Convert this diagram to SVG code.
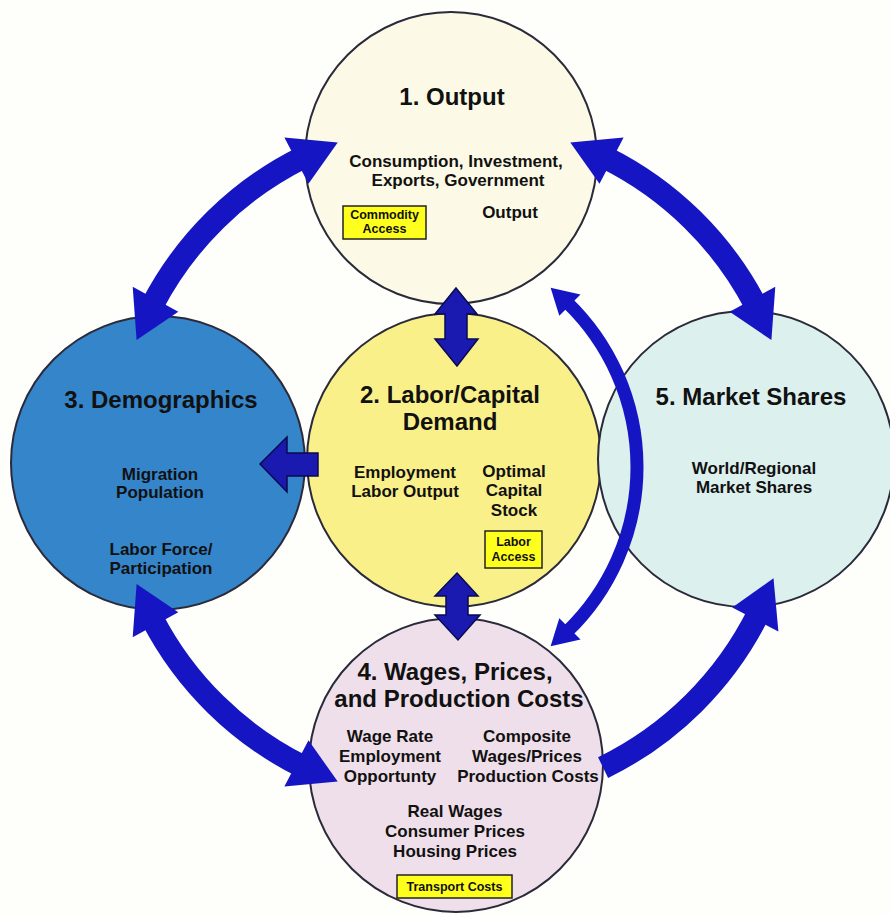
<svg xmlns="http://www.w3.org/2000/svg" width="890" height="915" viewBox="0 0 890 915">
<style>
text{font-family:"Liberation Sans",Arial,sans-serif;font-weight:bold;fill:#111;text-anchor:middle}
.t{font-size:24px}
.b{font-size:17px}
.s{font-size:12.5px}
.c{stroke:#2a2a3a;stroke-width:2}
.box{fill:#FFFF1E;stroke:#222;stroke-width:1.5}
.shaft{fill:none;stroke:#1515C4}
.head{fill:#1515C4}
.blk{fill:#1A1AB0;stroke:#0a0a50;stroke-width:1.5;stroke-linejoin:miter}
</style>
<rect width="890" height="915" fill="#FEFEFB"/>
<g id="node1">
<circle class="c" cx="451" cy="158" r="146" fill="#FCFAE6"/>
<text class="t" x="452" y="105">1. Output</text>
<text class="b" x="456" y="167">Consumption, Investment,</text>
<text class="b" x="458" y="186">Exports, Government</text>
<text class="b" x="510" y="218">Output</text>
<rect class="box" x="343" y="206" width="83" height="33"/>
<text class="s" x="384.5" y="219">Commodity</text>
<text class="s" x="384.5" y="233">Access</text>
</g>
<g id="node2">
<circle class="c" cx="454" cy="460" r="147" fill="#F9F08A"/>
<text class="t" x="450" y="403">2. Labor/Capital</text>
<text class="t" x="450" y="430">Demand</text>
<text class="b" x="405" y="478">Employment</text>
<text class="b" x="405" y="497">Labor Output</text>
<text class="b" x="514" y="477">Optimal</text>
<text class="b" x="514" y="496">Capital</text>
<text class="b" x="514" y="516">Stock</text>
<rect class="box" x="485" y="531" width="57" height="37"/>
<text class="s" x="513.5" y="546">Labor</text>
<text class="s" x="513.5" y="561">Access</text>
</g>
<g id="node3">
<circle class="c" cx="158" cy="463" r="147" fill="#3585CB"/>
<text class="t" x="161" y="408">3. Demographics</text>
<text class="b" x="160" y="480">Migration</text>
<text class="b" x="160" y="498">Population</text>
<text class="b" x="161" y="555">Labor Force/</text>
<text class="b" x="161" y="574">Participation</text>
</g>
<g id="node5">
<circle class="c" cx="746" cy="459" r="148" fill="#DCF0EE"/>
<text class="t" x="751" y="405">5. Market Shares</text>
<text class="b" x="754" y="474">World/Regional</text>
<text class="b" x="754" y="493">Market Shares</text>
</g>
<g id="node4">
<circle class="c" cx="456" cy="765" r="147" fill="#EFDFEA"/>
<text class="t" x="455" y="680">4. Wages, Prices,</text>
<text class="t" x="459" y="707">and Production Costs</text>
<text class="b" x="390" y="742">Wage Rate</text>
<text class="b" x="390" y="762">Employment</text>
<text class="b" x="390" y="782">Opportunty</text>
<text class="b" x="527" y="742">Composite</text>
<text class="b" x="527" y="762">Wages/Prices</text>
<text class="b" x="528" y="782">Production Costs</text>
<text class="b" x="455" y="817">Real Wages</text>
<text class="b" x="455" y="837">Consumer Prices</text>
<text class="b" x="455" y="857">Housing Prices</text>
<rect class="box" x="397" y="875" width="115" height="23"/>
<text class="s" x="454.5" y="891">Transport Costs</text>
</g>
<g id="connectors">
<!-- A: Output <-> Demographics -->
<path class="shaft" stroke-width="23" d="M302.3 157.7 A340 340 0 0 0 152.4 305"/>
<polygon class="head" points="337.7,142.5 308.5,183.7 284.4,137.6"/>
<polygon class="head" points="136.6,340.1 178.3,311.7 132.7,286.8"/>
<!-- B: Output <-> Market Shares -->
<path class="shaft" stroke-width="23" d="M605.7 157.7 A340 340 0 0 1 755.6 305"/>
<polygon class="head" points="570.3,142.5 599.5,183.7 623.6,137.6"/>
<polygon class="head" points="771.4,340.1 729.7,311.7 775.3,286.8"/>
<!-- C: Demographics <-> Wages -->
<path class="shaft" stroke-width="23" d="M152.4 619 A340 340 0 0 0 302.3 766.3"/>
<polygon class="head" points="136.6,583.9 178.3,612.3 132.7,637.2"/>
<polygon class="head" points="337.7,781.5 308.5,740.3 284.4,786.4"/>
<!-- D: Wages -> Market Shares -->
<path class="shaft" stroke-width="23" d="M603.1 767.6 A340 340 0 0 0 758.3 613.7"/>
<polygon class="head" points="773.5,578.3 732.3,607.5 778.4,631.6"/>
<!-- thin arc: Wages <-> Output -->
<path class="shaft" stroke-width="13" d="M567.1 302.3 A229 229 0 0 1 567.1 631.7"/>
<polygon class="head" points="550.6,287.8 559.3,315.7 580.5,294.5"/>
<polygon class="head" points="550.6,646.2 559.3,618.3 580.5,639.5"/>
<!-- Output <-> Labor/Capital -->
<polygon class="blk" points="456,288 477,314 467,314 467,339 478,339 457,366 435,339 445,339 445,314 435,314"/>
<!-- Labor/Capital <-> Wages -->
<polygon class="blk" points="457,573 478,596 468,596 468,615 480,615 458,640 435,615 446,615 446,596 435,596"/>
<!-- Labor/Capital -> Demographics -->
<polygon class="blk" points="318,453 287,453 287,437 260,464 287,492 287,476 318,476"/>
</g>
</svg>
